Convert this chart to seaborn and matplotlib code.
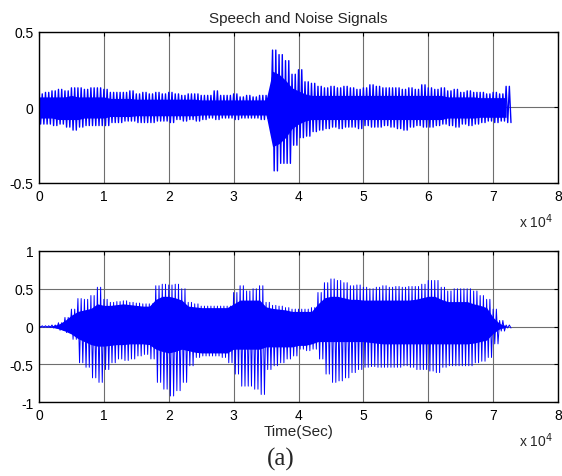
import numpy as np
import pandas as pd
import matplotlib
matplotlib.use('Agg')
import matplotlib.pyplot as plt
import seaborn as sns

# sample index of each reading (every 1000 samples, 0 .. 72000)
samples = np.arange(0, 73000, 1000)

# ---- noisy signal (top panel): peak readings per 1000 samples ----
noise_hi = [0.09, 0.10, 0.11, 0.12, 0.11, 0.13, 0.13, 0.12, 0.13, 0.13,
            0.12, 0.10, 0.10, 0.10, 0.11, 0.09, 0.10, 0.09, 0.10, 0.09,
            0.10, 0.09, 0.08, 0.09, 0.09, 0.08, 0.08, 0.11, 0.08, 0.08,
            0.09, 0.07, 0.08, 0.07, 0.08, 0.08, 0.38, 0.35, 0.31, 0.22,
            0.25, 0.17, 0.16, 0.14, 0.13, 0.14, 0.13, 0.14, 0.13, 0.12,
            0.13, 0.15, 0.14, 0.13, 0.13, 0.13, 0.12, 0.13, 0.12, 0.15,
            0.13, 0.12, 0.13, 0.11, 0.12, 0.10, 0.11, 0.10, 0.10, 0.09,
            0.10, 0.09, 0.14]
noise_lo = [-0.11, -0.11, -0.12, -0.11, -0.13, -0.15, -0.13, -0.12, -0.12, -0.12,
            -0.12, -0.10, -0.10, -0.09, -0.09, -0.10, -0.10, -0.10, -0.09, -0.09,
            -0.10, -0.08, -0.09, -0.08, -0.09, -0.08, -0.07, -0.08, -0.07, -0.07,
            -0.08, -0.07, -0.07, -0.07, -0.08, -0.07, -0.42, -0.37, -0.37, -0.25,
            -0.20, -0.19, -0.16, -0.15, -0.14, -0.13, -0.14, -0.13, -0.13, -0.14,
            -0.12, -0.13, -0.13, -0.12, -0.13, -0.14, -0.15, -0.13, -0.12, -0.13,
            -0.13, -0.12, -0.11, -0.12, -0.13, -0.11, -0.12, -0.11, -0.10, -0.09,
            -0.10, -0.09, -0.10]
# dense (solid looking) part of the noise band
noise_core_hi = [0.07, 0.07, 0.07, 0.07, 0.07, 0.08, 0.07, 0.07, 0.07, 0.07,
                 0.07, 0.06, 0.06, 0.06, 0.06, 0.055, 0.055, 0.055, 0.055, 0.055,
                 0.055, 0.055, 0.055, 0.055, 0.055, 0.05, 0.05, 0.05, 0.05, 0.05,
                 0.05, 0.05, 0.05, 0.05, 0.05, 0.05, 0.24, 0.22, 0.18, 0.13,
                 0.11, 0.09, 0.08, 0.08, 0.08, 0.08, 0.08, 0.08, 0.08, 0.08,
                 0.08, 0.08, 0.08, 0.08, 0.08, 0.08, 0.08, 0.08, 0.08, 0.08,
                 0.08, 0.08, 0.08, 0.07, 0.07, 0.07, 0.07, 0.07, 0.065, 0.065,
                 0.065, 0.065, 0.065]
noise_core_lo = [-0.07, -0.07, -0.07, -0.08, -0.08, -0.08, -0.08, -0.07, -0.07, -0.07,
                 -0.07, -0.06, -0.06, -0.06, -0.06, -0.055, -0.055, -0.055, -0.055, -0.055,
                 -0.055, -0.055, -0.055, -0.055, -0.055, -0.05, -0.05, -0.05, -0.05, -0.05,
                 -0.05, -0.05, -0.05, -0.05, -0.05, -0.05, -0.26, -0.24, -0.20, -0.14,
                 -0.11, -0.09, -0.08, -0.08, -0.08, -0.08, -0.08, -0.08, -0.08, -0.08,
                 -0.08, -0.08, -0.08, -0.08, -0.08, -0.08, -0.08, -0.08, -0.08, -0.08,
                 -0.08, -0.08, -0.08, -0.07, -0.07, -0.07, -0.07, -0.07, -0.065, -0.065,
                 -0.065, -0.065, -0.065]

# ---- clean speech (bottom panel) ----
speech_hi = [0.01, 0.01, 0.02, 0.05, 0.12, 0.23, 0.37, 0.36, 0.41, 0.52,
             0.36, 0.32, 0.33, 0.34, 0.32, 0.31, 0.30, 0.30, 0.54, 0.56,
             0.55, 0.56, 0.50, 0.32, 0.30, 0.27, 0.27, 0.27, 0.27, 0.27,
             0.45, 0.54, 0.47, 0.50, 0.54, 0.32, 0.28, 0.27, 0.25, 0.23,
             0.23, 0.23, 0.25, 0.45, 0.58, 0.63, 0.61, 0.58, 0.54, 0.55,
             0.52, 0.50, 0.52, 0.54, 0.52, 0.53, 0.52, 0.53, 0.53, 0.56,
             0.61, 0.61, 0.52, 0.47, 0.50, 0.50, 0.50, 0.47, 0.41, 0.36,
             0.23, 0.08, 0.02]
speech_lo = [-0.01, -0.01, -0.02, -0.05, -0.08, -0.17, -0.48, -0.54, -0.68, -0.74,
             -0.57, -0.48, -0.43, -0.45, -0.43, -0.39, -0.37, -0.43, -0.74, -0.83,
             -0.92, -0.85, -0.74, -0.52, -0.41, -0.39, -0.39, -0.39, -0.41, -0.48,
             -0.63, -0.79, -0.79, -0.83, -0.90, -0.57, -0.52, -0.48, -0.43, -0.39,
             -0.30, -0.32, -0.30, -0.43, -0.63, -0.74, -0.72, -0.68, -0.61, -0.57,
             -0.54, -0.53, -0.54, -0.54, -0.54, -0.54, -0.52, -0.54, -0.57, -0.57,
             -0.59, -0.61, -0.54, -0.52, -0.52, -0.52, -0.52, -0.48, -0.46, -0.41,
             -0.23, -0.06, -0.02]
speech_core_hi = [0.005, 0.005, 0.01, 0.03, 0.08, 0.15, 0.20, 0.22, 0.24, 0.30,
                  0.28, 0.28, 0.29, 0.30, 0.29, 0.28, 0.27, 0.27, 0.36, 0.40,
                  0.40, 0.38, 0.35, 0.27, 0.26, 0.25, 0.25, 0.25, 0.25, 0.25,
                  0.30, 0.35, 0.35, 0.35, 0.35, 0.26, 0.24, 0.23, 0.22, 0.20,
                  0.20, 0.20, 0.20, 0.30, 0.38, 0.40, 0.40, 0.38, 0.36, 0.36,
                  0.35, 0.35, 0.35, 0.35, 0.35, 0.35, 0.35, 0.35, 0.36, 0.38,
                  0.40, 0.40, 0.36, 0.33, 0.33, 0.33, 0.33, 0.30, 0.28, 0.25,
                  0.12, 0.04, 0.01]
speech_core_lo = [-0.005, -0.005, -0.01, -0.03, -0.06, -0.10, -0.16, -0.20, -0.24, -0.26,
                  -0.26, -0.25, -0.24, -0.24, -0.23, -0.23, -0.23, -0.24, -0.30, -0.33,
                  -0.35, -0.33, -0.30, -0.32, -0.34, -0.35, -0.35, -0.35, -0.35, -0.35,
                  -0.30, -0.30, -0.30, -0.30, -0.30, -0.27, -0.27, -0.27, -0.27, -0.27,
                  -0.25, -0.25, -0.23, -0.20, -0.20, -0.20, -0.20, -0.20, -0.20, -0.20,
                  -0.20, -0.21, -0.22, -0.23, -0.23, -0.23, -0.23, -0.23, -0.23, -0.23,
                  -0.23, -0.23, -0.23, -0.23, -0.23, -0.23, -0.23, -0.22, -0.20, -0.18,
                  -0.09, -0.03, -0.01]

x_ticks = [0, 10000, 20000, 30000, 40000, 50000, 60000, 70000, 80000]
x_ticklabels = ['0', '1', '2', '3', '4', '5', '6', '7', '8']


def waveform_frame(hi, lo):
    # each 1000-sample reading is the envelope of that stretch: swing the
    # trace between its peak and trough twice inside the stretch
    rows = []
    for s, h, l in zip(samples, hi, lo):
        rows += [(s, h), (s + 250, l), (s + 500, h), (s + 750, l)]
    return pd.DataFrame(rows, columns=['sample', 'amp'])


def draw_signal(ax, hi, lo, core_hi, core_lo, yticks, yticklabels, ylim, lw):
    ax.fill_between(samples, core_lo, core_hi, color='#0000ff', lw=0)
    sns.lineplot(data=waveform_frame(hi, lo), x='sample', y='amp', ax=ax,
                 estimator=None, sort=False, color='#0000ff', lw=lw)
    ax.set_xlim(0, 80000)
    ax.set_ylim(*ylim)
    ax.set_xticks(x_ticks)
    ax.set_xticklabels(x_ticklabels)
    ax.set_yticks(yticks)
    ax.set_yticklabels(yticklabels)
    ax.set_xlabel('')
    ax.set_ylabel('')
    ax.grid(True, color='#6e6e6e', lw=0.8)
    ax.set_axisbelow(True)
    ax.tick_params(direction='in', length=3, top=True, right=True,
                   labelsize=10, pad=4, colors='black')
    for sp in ax.spines.values():
        sp.set_color('black')
        sp.set_linewidth(1.0)
    ax.text(0.99, -0.25, r'x 10$^{4}$', transform=ax.transAxes,
            ha='right', va='center', fontsize=10)


sns.set_style('white')
plt.rcParams['font.family'] = ['Liberation Sans', 'DejaVu Sans']
plt.rcParams['axes.unicode_minus'] = False

fig = plt.figure(figsize=(5.62, 4.77), dpi=100)
ax1 = fig.add_axes([0.0694, 0.6143, 0.9235, 0.3166])
ax2 = fig.add_axes([0.0694, 0.1551, 0.9235, 0.3166])

draw_signal(ax1, noise_hi, noise_lo, noise_core_hi, noise_core_lo,
            [-0.5, 0, 0.5], ['-0.5', '0', '0.5'], (-0.5, 0.5), 1.0)
draw_signal(ax2, speech_hi, speech_lo, speech_core_hi, speech_core_lo,
            [-1, -0.5, 0, 0.5, 1], ['-1', '-0.5', '0', '0.5', '1'], (-1, 1), 0.7)

ax1.set_title('Speech and Noise Signals', fontsize=11, pad=7)
ax2.set_xlabel('Time(Sec)', fontsize=11, labelpad=2)
fig.text(0.5, 0.037, '(a)', ha='center', va='center', fontsize=18,
         family='Liberation Serif')

fig.savefig('out.png', dpi=100)
